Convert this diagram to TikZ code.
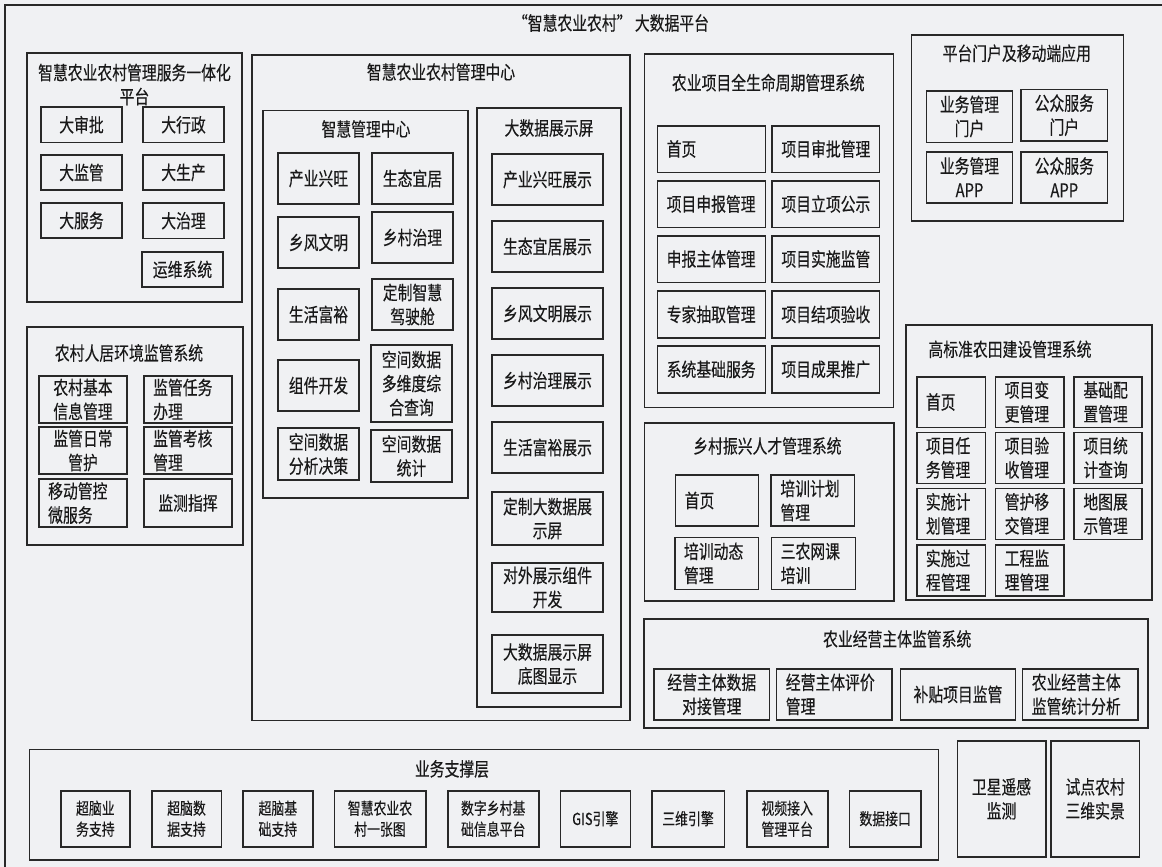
\documentclass[tikz,border=0pt]{standalone}
\usepackage{fontspec}
\setmainfont{Noto Sans CJK SC}[FakeStretch=0.78,FakeBold=0.3]
\definecolor{bgc}{RGB}{240,241,243}
\definecolor{linec}{RGB}{40,40,40}
\definecolor{textc}{RGB}{25,25,25}
\tikzset{
  box/.style={draw=linec, line width=1.6pt, inner sep=0pt, outer sep=0pt},
  txt/.style={text=textc, font=\fontsize{19}{24}\selectfont, align=center, inner sep=0pt},
  ltxt/.style={txt, align=left, anchor=west, xshift=9pt},
  stxt/.style={txt, font=\fontsize{16.5}{21}\selectfont},
}
% centred text box: [text style]{name}{x1}{y1}{x2}{y2}{text}
\newcommand\bx[7][txt]{%
  \node[box, minimum width={(#5-#3)*1pt}, minimum height={(#6-#4)*1pt}] (#2) at ({(#3+#5)/2},{(#4+#6)/2}) {};
  \node[#1] (#2t) at (#2.center) {#7};}
% left-aligned text box
\newcommand\lbx[6]{%
  \node[box, minimum width={(#4-#2)*1pt}, minimum height={(#5-#3)*1pt}] (#1) at ({(#2+#4)/2},{(#3+#5)/2}) {};
  \node[ltxt] (#1t) at (#1.west) {#6};}
% container
\newcommand\cbx[5]{%
  \node[box, minimum width={(#4-#2)*1pt}, minimum height={(#5-#3)*1pt}] (#1) at ({(#2+#4)/2},{(#3+#5)/2}) {};}
\begin{document}
\begin{tikzpicture}[x=1pt,y=-1pt]
\fill[bgc] (0,0) rectangle (1162,867);
\useasboundingbox (0,0) rectangle (1162,867);
\clip (0,0) rectangle (1162,867);
\cbx{outer}{5}{5}{1168}{873}
\node[txt] (title) at (611,23) {“智慧农业农村” 大数据平台};

% ---- A
\cbx{pA}{27}{53}{242}{302}
\node[txt] (pAt) at (134.5,84.5) {智慧农业农村管理服务一体化\\平台};
\bx{a1}{41}{107}{122}{142.5}{大审批}
\bx{a2}{143}{107}{224}{142.5}{大行政}
\bx{a3}{41}{155}{122}{190}{大监管}
\bx{a4}{143}{155}{224}{190}{大生产}
\bx{a5}{41}{203}{122}{238}{大服务}
\bx{a6}{143}{203}{224}{238.5}{大治理}
\bx{a7}{142}{252}{223}{287}{运维系统}

% ---- R
\cbx{pR}{27}{327}{243}{545}
\node[txt] (pRt) at (129,353) {农村人居环境监管系统};
\bx{r1}{39}{376}{127}{423}{农村基本\\信息管理}
\lbx{r2}{144}{376}{232}{423}{监管任务\\办理}
\bx{r3}{39}{427}{127}{474}{监管日常\\管护}
\lbx{r4}{144}{427}{232}{474}{监管考核\\管理}
\lbx{r5}{39}{479}{127}{527}{移动管控\\微服务}
\bx{r6}{144}{479}{232}{527}{监测指挥}

% ---- B
\cbx{pB}{252}{55}{630}{720.5}
\node[txt] (pBt) at (441,72) {智慧农业农村管理中心};
\cbx{pM}{263}{110.5}{468}{498}
\node[txt] (pMt) at (366,129) {智慧管理中心};
\bx{m1}{278}{153}{359}{204}{产业兴旺}
\bx{m2}{372}{153}{453}{204}{生态宜居}
\bx{m3}{278}{217}{359}{268}{乡风文明}
\bx{m4}{372}{212}{453}{263}{乡村治理}
\bx{m5}{278}{289}{359}{340}{生活富裕}
\bx{m6}{372}{279}{453}{330}{定制智慧\\驾驶舱}
\bx{m7}{278}{360}{359}{411}{组件开发}
\bx{m8}{371}{345}{452}{422}{空间数据\\多维度综\\合查询}
\bx{m9}{278}{428}{359}{480}{空间数据\\分析决策}
\bx{m10}{371}{430}{452}{482}{空间数据\\统计}
\cbx{pS}{477}{108}{621}{707}
\node[txt] (pSt) at (549,128) {大数据展示屏};
\bx{s1}{492}{154}{603}{205}{产业兴旺展示}
\bx{s2}{492}{221}{603}{272}{生态宜居展示}
\bx{s3}{492}{288}{603}{339}{乡风文明展示}
\bx{s4}{492}{355}{603}{406}{乡村治理展示}
\bx{s5}{492}{422}{603}{473}{生活富裕展示}
\bx{s6}{492}{492}{603}{545}{定制大数据展\\示屏}
\bx{s7}{492}{563}{603}{612}{对外展示组件\\开发}
\bx{s8}{492}{635}{603}{693}{大数据展示屏\\底图显示}

% ---- C
\cbx{pC}{644.3}{54}{893.3}{407.3}
\node[txt] (pCt) at (768.3,82.7) {农业项目全生命周期管理系统};
\lbx{c1}{657.5}{125.7}{765.4}{172.3}{首页}
\lbx{c2}{772.2}{125.7}{879.4}{172.3}{项目审批管理}
\lbx{c3}{657.5}{180.7}{765.4}{227.3}{项目申报管理}
\lbx{c4}{772.2}{180.7}{879.4}{227.3}{项目立项公示}
\lbx{c5}{657.5}{235.7}{765.4}{282.3}{申报主体管理}
\lbx{c6}{772.2}{235.7}{879.4}{282.3}{项目实施监管}
\lbx{c7}{657.5}{291}{765.4}{337.7}{专家抽取管理}
\lbx{c8}{772.2}{291}{879.4}{337.7}{项目结项验收}
\lbx{c9}{657.5}{346}{765.4}{392.7}{系统基础服务}
\lbx{c10}{772.2}{346}{879.4}{392.7}{项目成果推广}

% ---- D
\cbx{pD}{911.3}{35.3}{1123.4}{220.7}
\node[txt] (pDt) at (1016.8,53.3) {平台门户及移动端应用};
\bx{d1}{926.6}{90.7}{1012.4}{142.3}{业务管理\\门户}
\bx{d2}{1021.2}{89.3}{1107.4}{141}{公众服务\\门户}
\bx{d3}{926.6}{151.7}{1012.4}{202.7}{业务管理\\APP}
\bx{d4}{1021.2}{151.7}{1107.4}{202.7}{公众服务\\APP}

% ---- E
\cbx{pE}{906.2}{325}{1152.2}{600}
\node[txt] (pEt) at (1010,349.3) {高标准农田建设管理系统};
\lbx{e1}{916.7}{376.7}{985.3}{427.3}{首页}
\lbx{e2}{995.5}{376.7}{1063.7}{427.3}{项目变\\更管理}
\lbx{e3}{1074.2}{376.7}{1142}{427.3}{基础配\\置管理}
\lbx{e4}{916.7}{432.3}{985.3}{483.3}{项目任\\务管理}
\lbx{e5}{995.5}{432.3}{1063.7}{483.3}{项目验\\收管理}
\lbx{e6}{1074.2}{432.3}{1142}{483.3}{项目统\\计查询}
\lbx{e7}{916.7}{488.3}{985.3}{539.3}{实施计\\划管理}
\lbx{e8}{995.5}{488.3}{1063.7}{539.3}{管护移\\交管理}
\lbx{e9}{1074.2}{488.3}{1142}{539.3}{地图展\\示管理}
\lbx{e10}{916.7}{544.7}{985.3}{596}{实施过\\程管理}
\lbx{e11}{995.5}{544.7}{1063.7}{596}{工程监\\理管理}

% ---- F
\cbx{pF}{644.3}{423}{893.7}{601}
\node[txt] (pFt) at (767.4,446) {乡村振兴人才管理系统};
\lbx{f1}{675.5}{475}{758.6}{526}{首页}
\lbx{f2}{771.2}{475}{854.3}{526}{培训计划\\管理}
\lbx{f3}{674.8}{537.3}{758.6}{589.3}{培训动态\\管理}
\lbx{f4}{771.5}{537.3}{855.3}{589.3}{三农网课\\培训}

% ---- G
\cbx{pG}{643.9}{618.7}{1148.2}{728}
\node[txt] (pGt) at (897.2,639) {农业经营主体监管系统};
\bx{g1}{654.1}{668.7}{769.5}{720}{经营主体数据\\对接管理}
\lbx{g2}{776.6}{668.7}{892}{720}{经营主体评价\\管理}
\bx{g3}{900.4}{668.7}{1015.5}{720}{补贴项目监管}
\lbx{g4}{1022.6}{668.7}{1138}{720}{农业经营主体\\监管统计分析}

% ---- H
\cbx{pH}{29.3}{749.3}{938.3}{860}
\node[txt] (pHt) at (452,769) {业务支撑层};
\bx[stxt]{h1}{60.7}{790.7}{130}{846.7}{超脑业\\务支持}
\bx[stxt]{h2}{151.7}{790.7}{221.3}{846.7}{超脑数\\据支持}
\bx[stxt]{h3}{243}{790.7}{312.7}{846.7}{超脑基\\础支持}
\bx[stxt]{h4}{334.3}{790.7}{425.7}{846.7}{智慧农业农\\村一张图}
\bx[stxt]{h5}{447.7}{790.7}{538.7}{846.7}{数字乡村基\\础信息平台}
\bx[stxt]{h6}{560.3}{790.7}{630.3}{846.7}{GIS引擎}
\bx[stxt]{h7}{651.7}{790.7}{724.3}{846.7}{三维引擎}
\bx[stxt]{h8}{746.7}{790.7}{827.7}{846.7}{视频接入\\管理平台}
\bx[stxt]{h9}{849.3}{790.7}{921}{846.7}{数据接口}

\bx{sat}{957.3}{741}{1045.7}{856.7}{卫星遥感\\监测}
\bx{vil}{1051}{741}{1139.3}{856.7}{试点农村\\三维实景}
\end{tikzpicture}
\end{document}
